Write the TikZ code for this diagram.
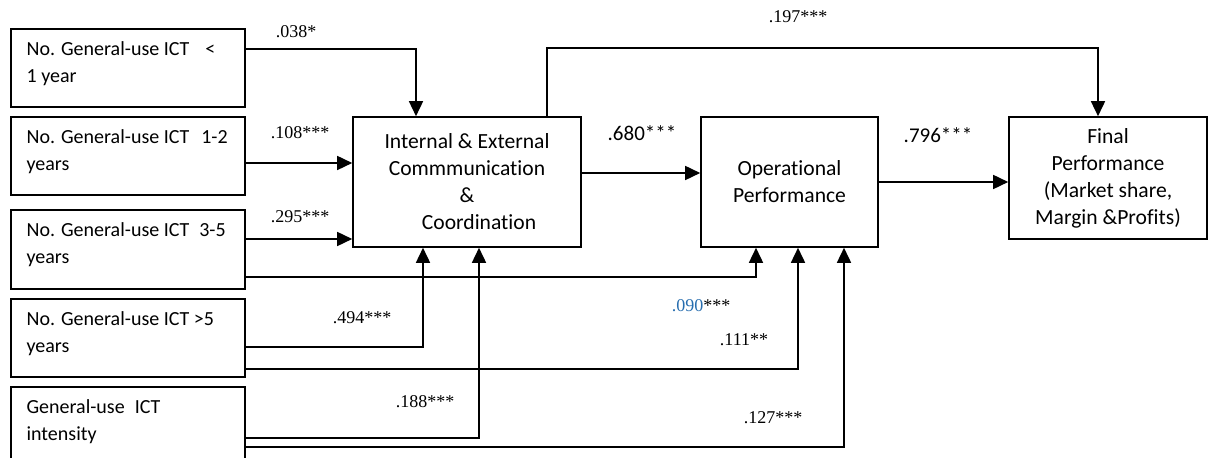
\documentclass[tikz,border=0pt]{standalone}
\usepackage{fontspec}
\setmainfont{Carlito}[Ligatures=NoCommon]
\newfontfamily\numfont{Liberation Serif}
\usetikzlibrary{arrows.meta}

\definecolor{coefblue}{RGB}{40,110,175}

\tikzset{
	inbox/.style={draw, line width=0.8pt, minimum width=117pt, minimum height=39pt, inner sep=0pt},
	midbox/.style={draw, line width=0.8pt, align=center, inner sep=0pt, font=\fontsize{10.8}{13.5}\selectfont},
	intext/.style={anchor=north west, align=left, inner sep=0pt, font=\fontsize{10}{13.5}\selectfont},
	coef/.style={inner sep=0pt, font=\numfont\fontsize{9}{10}\selectfont},
	coefsans/.style={inner sep=0pt, font=\fontsize{10.5}{11}\selectfont},
	arr/.style={line width=0.8pt, -{Triangle[length=7.5pt,width=7pt]}}
}

\begin{document}
\begin{tikzpicture}[x=0.5pt, y=-0.5pt]
		\useasboundingbox (0,0) rectangle (1208,458);

		% input boxes
		\draw (128,68) node[inbox] (in1) {};
		\draw (128,156) node[inbox] (in2) {};
		\draw (128,249.5) node[inbox, minimum height=39.5pt] (in3) {};
		\draw (128,338) node[inbox] (in4) {};
		\draw (128,426) node[inbox] (in5) {};

		\draw ([shift={(8pt,-6.5pt)}]in1.north west) node[intext] (t1) {No. General-use ICT\hspace{8pt}<\\1 year};
		\draw ([shift={(8pt,-6.5pt)}]in2.north west) node[intext] (t2) {No. General-use ICT\hspace{6pt}1-2\\years};
		\draw ([shift={(8pt,-6.5pt)}]in3.north west) node[intext] (t3) {No. General-use ICT\hspace{5pt}3-5\\years};
		\draw ([shift={(8pt,-6.5pt)}]in4.north west) node[intext] (t4) {No. General-use ICT >5\\years};
		\draw ([shift={(8pt,-6.5pt)}]in5.north west) node[intext] (t5) {General-use\hspace{5pt}ICT\\intensity};

		% mediator and outcomes
		\draw (467,182) node[midbox, minimum width=114pt, minimum height=65pt] (icc) {Internal \& External\\Commmunication\\\&\\\hspace*{12pt}Coordination};
		\draw (789.5,182) node[midbox, minimum width=88.5pt, minimum height=65pt] (op) {Operational\\Performance};
		\draw (1108,178) node[midbox, minimum width=99pt, minimum height=61pt] (fin) {Final\\Performance\\(Market share,\\Margin \&Profits)};

		% paths
		\coordinate (s1) at ([yshift=9.5pt]in1.east);
		\draw[arr] (s1) -| ([xshift=-25.5pt]icc.north);
		\coordinate (s2) at ([yshift=-3.5pt]in2.east);
		\draw[arr] (s2) -- (s2 -| icc.west);
		\coordinate (s3) at ([yshift=5.25pt]in3.east);
		\draw[arr] (s3) -- (s3 -| icc.west);
		\coordinate (s3b) at ([yshift=-13.75pt]in3.east);
		\draw[arr] (s3b) -| ([xshift=-16.75pt]op.south);
		\coordinate (s4) at ([yshift=-4.5pt]in4.east);
		\draw[arr] (s4) -| ([xshift=-22pt]icc.south);
		\coordinate (s4b) at ([yshift=-15.5pt]in4.east);
		\draw[arr] (s4b) -| ([xshift=4.25pt]op.south);
		\coordinate (s5) at ([yshift=-6pt]in5.east);
		\draw[arr] (s5) -| ([xshift=6pt]icc.south);
		\coordinate (s5b) at ([yshift=-10.5pt]in5.east);
		\draw[arr] (s5b) -| ([xshift=27.25pt]op.south);
		\coordinate (m1) at ([yshift=4.5pt]icc.east);
		\draw[arr] (m1) -- (m1 -| op.west);
		\draw[arr] ([xshift=40pt]icc.north) -- ++(0,-68) -| ([xshift=-5pt]fin.north);
		\draw[arr] (op.east) -- (op.east -| fin.west);

		% coefficients
		\draw (296,32) node[coef] (c1) {.038*};
		\draw (300,133) node[coef] (c2) {.108***};
		\draw (300,217) node[coef] (c3) {.295***};
		\draw (362,318) node[coef] (c4) {.494***};
		\draw (425,402) node[coef] (c5) {.188***};
		\draw (701,306) node[coef] (c6) {\textcolor{coefblue}{.090}***};
		\draw (744,340) node[coef] (c7) {.111**};
		\draw (773,418) node[coef] (c8) {.127***};
		\draw (798,17) node[coef] (c9) {.197***};
		\draw (642,133) node[coefsans] (c10) {.680***};
		\draw (938,135) node[coefsans] (c11) {.796***};
	\end{tikzpicture}
\end{document}
